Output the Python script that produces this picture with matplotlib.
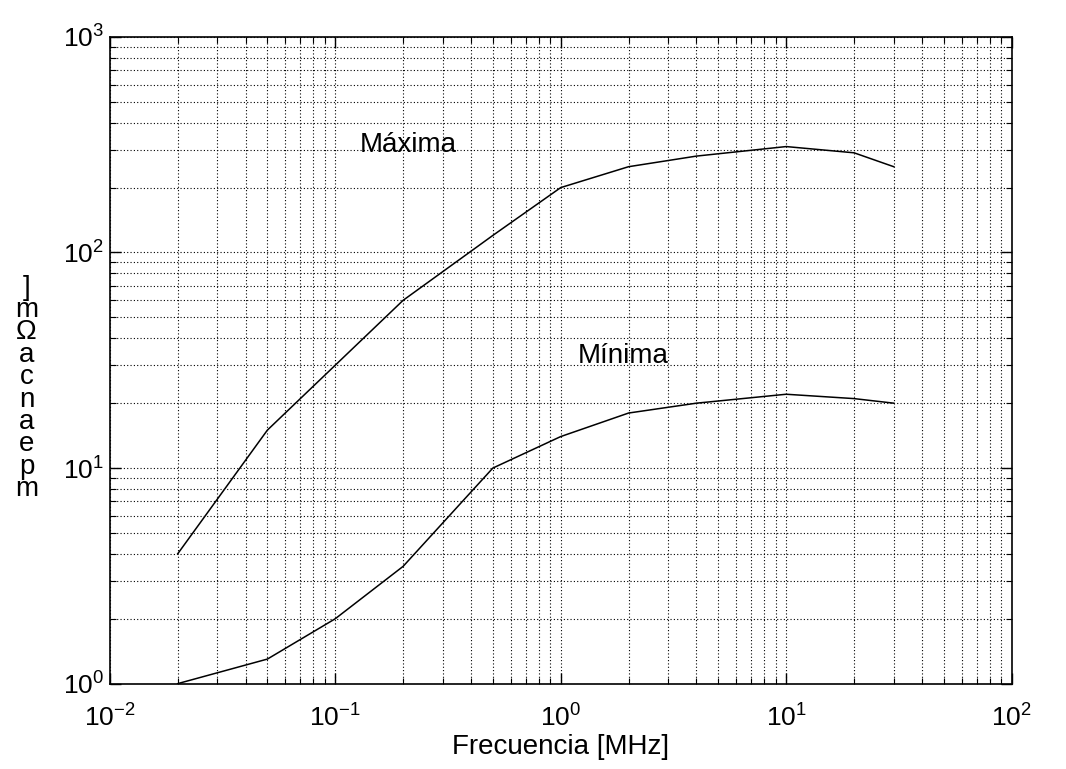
import numpy as np
import matplotlib
matplotlib.use("Agg")
import matplotlib.pyplot as plt

plt.rcParams['font.family'] = ['Liberation Sans', 'DejaVu Sans']
plt.rcParams['mathtext.fontset'] = 'custom'
plt.rcParams['mathtext.rm'] = 'Liberation Sans'
plt.rcParams['mathtext.it'] = 'Liberation Sans'
plt.rcParams['mathtext.default'] = 'regular'

# data
freq = [0.02, 0.05, 0.1, 0.2, 0.5, 1, 2, 4, 10, 20, 30]
rho_max = [4, 15, 30, 60, 120, 200, 250, 280, 310, 290, 250]
rho_min = [1, 1.3, 2, 3.5, 10, 14, 18, 20, 22, 21, 20]

# garbled y label as it shows in the reference (glyphs stacked top to bottom)
ylabel_glyphs = [']', 'm', 'Ω', 'a', 'c', 'n', 'a', 'e', 'p', 'm']

fig = plt.figure(figsize=(10.66, 7.69), dpi=100)
ax = fig.add_axes([0.103, 0.111, 0.846, 0.841])

ax.loglog(freq, rho_max, color='black', lw=1.1)
ax.loglog(freq, rho_min, color='black', lw=1.1)

ax.set_xlim(1e-2, 1e2)
ax.set_ylim(1e0, 1e3)

ax.grid(True, which='both', color='black', linestyle=(0, (1, 2)), lw=0.8)
ax.tick_params(which='both', direction='in', top=True, right=True, labelsize=19)
ax.tick_params(which='major', length=8, width=1)
ax.tick_params(which='minor', length=4, width=0.8)
ax.tick_params(axis='x', pad=15)
ax.tick_params(axis='y', pad=4)
for s in ax.spines.values():
    s.set_linewidth(1.2)

ax.set_xlabel('Frecuencia [MHz]', fontsize=20, labelpad=2)

ax.text(0.128, 315, 'Máxima', fontsize=20, va='center', ha='left')
ax.text(1.19, 33, 'Mínima', fontsize=20, va='center', ha='left')

fig.text(0.025, 0.495, '\n'.join(ylabel_glyphs), fontsize=20, ha='center',
         va='center', linespacing=0.82)

fig.savefig('out.png', dpi=100)
